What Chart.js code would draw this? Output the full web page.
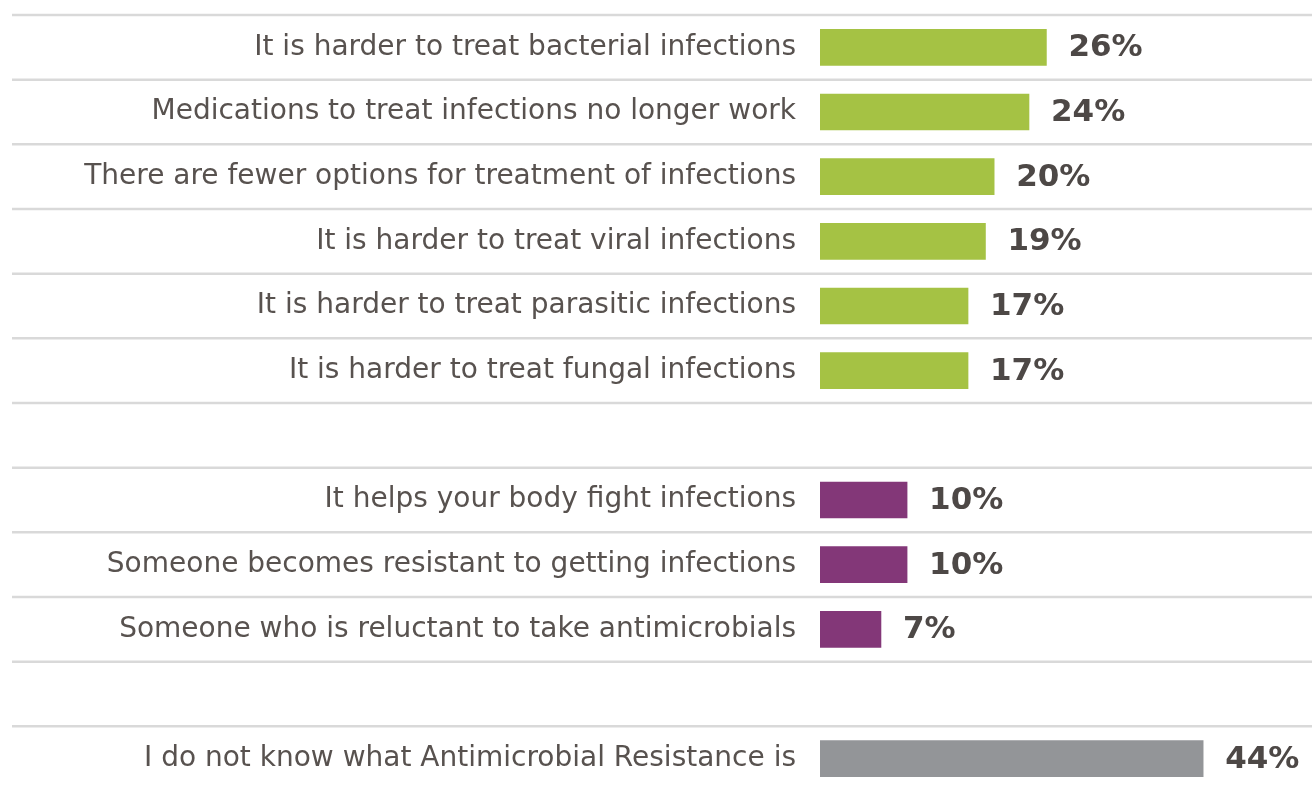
<!DOCTYPE html>
<html>
<head>
<meta charset="utf-8">
<script src="https://cdn.jsdelivr.net/npm/chart.js@4"></script>
<style>
    html, body { margin: 0; padding: 0; background: #fff; overflow: hidden; }
    #wrap { position: relative; width: 1312px; height: 791px; }
</style>
</head>
<body>
<div id="wrap"><canvas id="chart-amr"></canvas></div>
<script>
// empty strings / nulls are the spacer rows between groups
const categories = [
    'It is harder to treat bacterial infections',
    'Medications to treat infections no longer work',
    'There are fewer options for treatment of infections',
    'It is harder to treat viral infections',
    'It is harder to treat parasitic infections',
    'It is harder to treat fungal infections',
    '',
    'It helps your body fight infections',
    'Someone becomes resistant to getting infections',
    'Someone who is reluctant to take antimicrobials',
    '',
    'I do not know what Antimicrobial Resistance is'
];
const values = [26, 24, 20, 19, 17, 17, null, 10, 10, 7, null, 44];
const groups = ['a', 'a', 'a', 'a', 'a', 'a', null, 'b', 'b', 'b', null, 'c'];
const groupColors = { a: '#a5c244', b: '#833778', c: '#939598' };
const xMax = 56.5;

const FONT = 'Verdana, "DejaVu Sans", sans-serif';

// separator lines across the full width + value labels at bar ends
const rowDecor = {
    id: 'rowDecor',
    beforeDatasetsDraw(chart) {
        const c = chart.ctx, y = chart.scales.y, area = chart.chartArea;
        const step = (area.bottom - area.top) / categories.length;
        c.save();
        c.strokeStyle = '#d9d9d9';
        c.lineWidth = 2.5;
        for (let i = 0; i <= categories.length; i++) {
            const py = y.getPixelForValue(0) - step / 2 + i * step;
            c.beginPath();
            c.moveTo(12, py);
            c.lineTo(chart.width, py);
            c.stroke();
        }
        c.restore();
    },
    afterDatasetsDraw(chart) {
        const c = chart.ctx;
        const meta = chart.getDatasetMeta(0);
        c.save();
        c.font = 'bold 31px ' + FONT;
        c.fillStyle = '#4d4846';
        c.textAlign = 'left';
        c.textBaseline = 'middle';
        meta.data.forEach((bar, i) => {
            if (values[i] == null) return;
            c.fillText(values[i] + '%', bar.x + 22, bar.y + 1);
        });
        c.restore();
    }
};

new Chart(document.getElementById('chart-amr'), {
    type: 'bar',
    data: {
        labels: categories,
        datasets: [{
            data: values,
            backgroundColor: groups.map(g => g ? groupColors[g] : 'transparent'),
            barThickness: 36,
            borderWidth: 0
        }]
    },
    options: {
        indexAxis: 'y',
        responsive: true,
        maintainAspectRatio: false,
        animation: false,
        layout: { padding: { top: 15, bottom: 0, left: 0, right: 0 } },
        scales: {
            x: {
                display: false,
                min: 0,
                max: xMax
            },
            y: {
                afterFit(scale) {
                    scale.width = 820;
                    scale.paddingTop = 0;
                    scale.paddingBottom = 0;
                },
                grid: { display: false },
                border: { display: false },
                ticks: {
                    padding: 16,
                    color: '#58524f',
                    font: { family: FONT, size: 28 },
                    autoSkip: false
                }
            }
        },
        plugins: {
            legend: { display: false },
            tooltip: { enabled: false }
        }
    },
    plugins: [rowDecor]
});
</script>
</body>
</html>
